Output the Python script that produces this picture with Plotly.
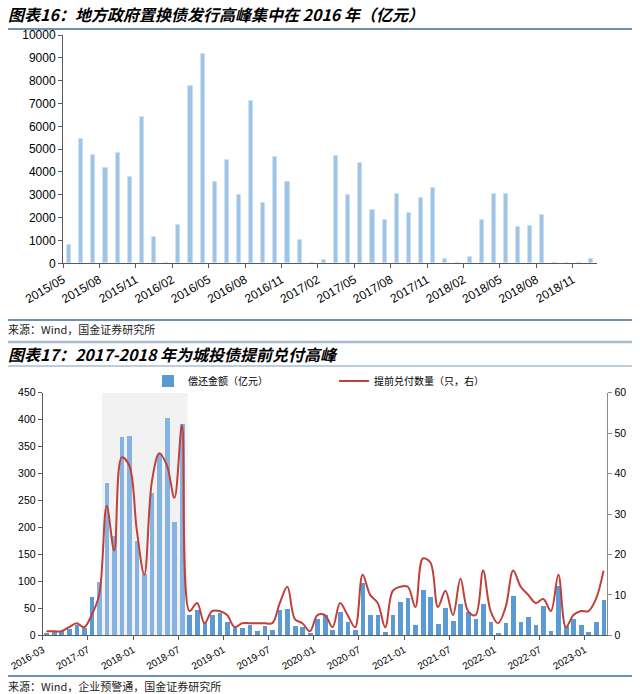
import plotly.graph_objects as go

# ---------------- Chart 1 data: 地方政府置换债发行 (亿元) ----------------
months1 = [
    "2015/05", "2015/06", "2015/07", "2015/08", "2015/09", "2015/10", "2015/11", "2015/12",
    "2016/01", "2016/02", "2016/03", "2016/04", "2016/05", "2016/06", "2016/07", "2016/08",
    "2016/09", "2016/10", "2016/11", "2016/12",
    "2017/01", "2017/02", "2017/03", "2017/04", "2017/05", "2017/06", "2017/07", "2017/08",
    "2017/09", "2017/10", "2017/11", "2017/12",
    "2018/01", "2018/02", "2018/03", "2018/04", "2018/05", "2018/06", "2018/07", "2018/08",
    "2018/09", "2018/10", "2018/11", "2018/12",
]
swap_issuance = [
    780, 5430, 4730, 4170, 4830, 3780, 6410, 1150,
    0, 1660, 7770, 9180, 3580, 4530, 2990, 7120, 2640, 4640, 3550, 1010,
    0, 150, 4690, 2980, 4380, 2320, 1880, 3020, 2220, 2880, 3310, 190,
    0, 280, 1910, 3020, 3020, 1590, 1640, 2120, 0, 0, 0, 170,
]

# ---------------- Chart 2 data: 城投债提前兑付 ----------------
months2 = [
    "2016-03", "2016-06", "2016-09", "2016-12", "2017-03", "2017-05",
    "2017-07", "2017-08", "2017-09", "2017-10", "2017-11", "2017-12",
    "2018-01", "2018-02", "2018-03", "2018-04", "2018-05", "2018-06",
    "2018-07", "2018-08", "2018-09", "2018-10", "2018-11", "2018-12",
    "2019-01", "2019-02", "2019-03", "2019-04", "2019-05", "2019-06",
    "2019-07", "2019-08", "2019-09", "2019-10", "2019-11", "2019-12",
    "2020-01", "2020-02", "2020-03", "2020-04", "2020-05", "2020-06",
    "2020-07", "2020-08", "2020-09", "2020-10", "2020-11", "2020-12",
    "2021-01", "2021-02", "2021-03", "2021-04", "2021-05", "2021-06",
    "2021-07", "2021-08", "2021-09", "2021-10", "2021-11", "2021-12",
    "2022-01", "2022-02", "2022-03", "2022-04", "2022-05", "2022-06",
    "2022-07", "2022-08", "2022-09", "2022-10", "2022-11", "2022-12",
    "2023-01", "2023-02", "2023-03",
]
repay_amount = [
    4, 9, 8, 13, 19, 14,
    71, 100, 283, 185, 368, 370,
    175, 115, 265, 337, 403, 210,
    392, 38, 48, 23, 38, 42,
    25, 15, 14, 19, 9, 17,
    10, 48, 49, 17, 16, 4,
    30, 38, 10, 44, 25, 10,
    97, 39, 39, 6, 38, 63,
    69, 19, 85, 71, 22, 52,
    28, 58, 43, 30, 58, 25,
    5, 23, 73, 25, 35, 20,
    54, 9, 92, 17, 30, 20,
    6, 25, 66,
]
early_count = [
    1, 1, 1, 2, 3, 2,
    5, 10, 32, 21, 44, 42,
    26, 15, 38, 45, 42, 34,
    52, 6, 8, 3, 6, 6,
    5, 2, 3, 3, 3, 3,
    3, 8, 12, 4, 3, 1,
    5, 5, 2, 8, 5, 2,
    15, 10, 8, 2, 11, 12,
    12, 7, 19, 18, 7, 11,
    5, 14, 6, 5, 16, 6,
    3, 7, 16, 12, 10, 8,
    9, 6, 15, 2, 5, 6,
    6, 9, 16,
]
highlight_first, highlight_last = "2017-08", "2018-07"   # shaded peak period

# ---------------- styling ----------------
W, H = 640, 694
CJK = "Noto Sans CJK SC"
NUM = "Liberation Sans, Arial"
AX = "#595959"
RULE_DARK = "#3A6E9C"
RULE_LIGHT = "#A9BCCF"


def px(x):
    return x / W


def py(y):
    return 1 - y / H


fig = go.Figure()

# chart 1 bars
x1 = [i + 0.5 for i in range(len(months1))]
fig.add_trace(go.Bar(
    x=x1, y=swap_issuance, customdata=months1, width=0.34,
    marker=dict(color="#9DC3E6", line=dict(color="#CADFF2", width=0.8)),
    xaxis="x", yaxis="y", showlegend=False,
    hovertemplate="%{customdata}: %{y}<extra></extra>",
))

# chart 2 bars + line
x2 = [i + 0.5 for i in range(len(months2))]
i_hl0, i_hl1 = months2.index(highlight_first), months2.index(highlight_last)
bar_colors = ["#86B4E2" if i_hl0 <= i <= i_hl1 else "#5B9BD5" for i in range(len(months2))]
fig.add_trace(go.Bar(
    x=x2, y=repay_amount, customdata=months2, width=0.62,
    marker=dict(color=bar_colors, line=dict(width=0)),
    name="偿还金额（亿元）", xaxis="x2", yaxis="y2", legend="legend",
    hovertemplate="%{customdata}: %{y}<extra></extra>",
))
fig.add_trace(go.Scatter(
    x=x2, y=early_count, customdata=months2, mode="lines",
    line=dict(color="#C0403A", width=2, shape="spline", smoothing=1.0),
    name="提前兑付数量（只，右）", xaxis="x2", yaxis="y3", legend="legend2",
    hovertemplate="%{customdata}: %{y}<extra></extra>",
))

axis_common = dict(showline=True, linecolor=AX, linewidth=1, showgrid=False, zeroline=False,
                   ticks="outside", tickcolor=AX, ticklen=4, fixedrange=True,
                   automargin=False, tickformat="d")

fig.update_layout(
    width=W, height=H, margin=dict(l=0, r=0, t=0, b=0, autoexpand=False),
    paper_bgcolor="white", plot_bgcolor="rgba(0,0,0,0)",
    bargap=0, showlegend=True,
    font=dict(family=NUM, color="#000000"),
    xaxis=dict(domain=[px(63), px(597)], range=[0, len(months1)], anchor="y",
               tickvals=list(range(0, len(months1), 3)), ticktext=months1[::3],
               tickangle=-30, tickfont=dict(size=12, family=NUM, color="#000"),
               **axis_common),
    yaxis=dict(domain=[py(263.3), py(35)], range=[0, 10000], dtick=1000, anchor="x",
               tickfont=dict(size=12, family=NUM, color="#000"), **axis_common),
    xaxis2=dict(domain=[px(42.7), px(607.3)], range=[0, len(months2)], anchor="y2",
                tickvals=list(range(0, len(months2), 6)), ticktext=months2[::6],
                tickangle=-30, tickfont=dict(size=10, family=NUM, color="#000"),
                **axis_common),
    yaxis2=dict(domain=[py(635.3), py(392.7)], range=[0, 450], dtick=50, anchor="x2",
                tickfont=dict(size=10.5, family=NUM, color="#000"), **axis_common),
    yaxis3=dict(overlaying="y2", side="right", range=[0, 60], dtick=10, anchor="x2",
                tickfont=dict(size=10.5, family=NUM, color="#000"),
                showline=True, linecolor="#8C8C8C", linewidth=1, showgrid=False,
                zeroline=False, ticks="outside", tickcolor="#8C8C8C", ticklen=4,
                automargin=False, tickformat="d", fixedrange=True),
    legend=dict(x=px(148), y=py(381), xanchor="left", yanchor="middle",
                orientation="h", font=dict(family=CJK, size=10, color="#000"),
                bgcolor="rgba(0,0,0,0)", itemwidth=30),
    legend2=dict(x=px(334), y=py(381), xanchor="left", yanchor="middle",
                 orientation="h", font=dict(family=CJK, size=10, color="#000"),
                 bgcolor="rgba(0,0,0,0)", itemwidth=30),
)

# shaded peak period
fig.add_shape(type="rect", xref="x2", yref="y2", x0=i_hl0 + 0.85, x1=i_hl1 + 1.25, y0=0, y1=450,
              fillcolor="#F2F2F2", line=dict(width=0), layer="below")

# rules
for y, c, w in [(29, RULE_DARK, 1.5), (320, RULE_DARK, 1.5), (342, RULE_LIGHT, 2.5),
                (366, RULE_LIGHT, 1.5), (676, RULE_DARK, 1.5)]:
    fig.add_shape(type="line", xref="paper", yref="paper", x0=px(8), x1=px(632),
                  y0=py(y), y1=py(y), line=dict(color=c, width=w))

title_font = dict(family=CJK, size=16, color="#000", weight="bold", style="italic")
src_font = dict(family=CJK, size=11, color="#222")
fig.add_annotation(xref="paper", yref="paper", x=px(6), y=py(14), xanchor="left", yanchor="middle",
                   text="图表16：地方政府置换债发行高峰集中在 2016 年（亿元）", showarrow=False, font=title_font)
fig.add_annotation(xref="paper", yref="paper", x=px(6), y=py(354), xanchor="left", yanchor="middle",
                   text="图表17：2017-2018 年为城投债提前兑付高峰", showarrow=False, font=title_font)
fig.add_annotation(xref="paper", yref="paper", x=px(6), y=py(329), xanchor="left", yanchor="middle",
                   text="来源：Wind，国金证券研究所", showarrow=False, font=src_font)
fig.add_annotation(xref="paper", yref="paper", x=px(6), y=py(686), xanchor="left", yanchor="middle",
                   text="来源：Wind，企业预警通，国金证券研究所", showarrow=False, font=src_font)

fig.write_html("out.html", config={"displayModeBar": False},
               post_script="document.body.style.margin='0';document.body.style.overflow='hidden';")
